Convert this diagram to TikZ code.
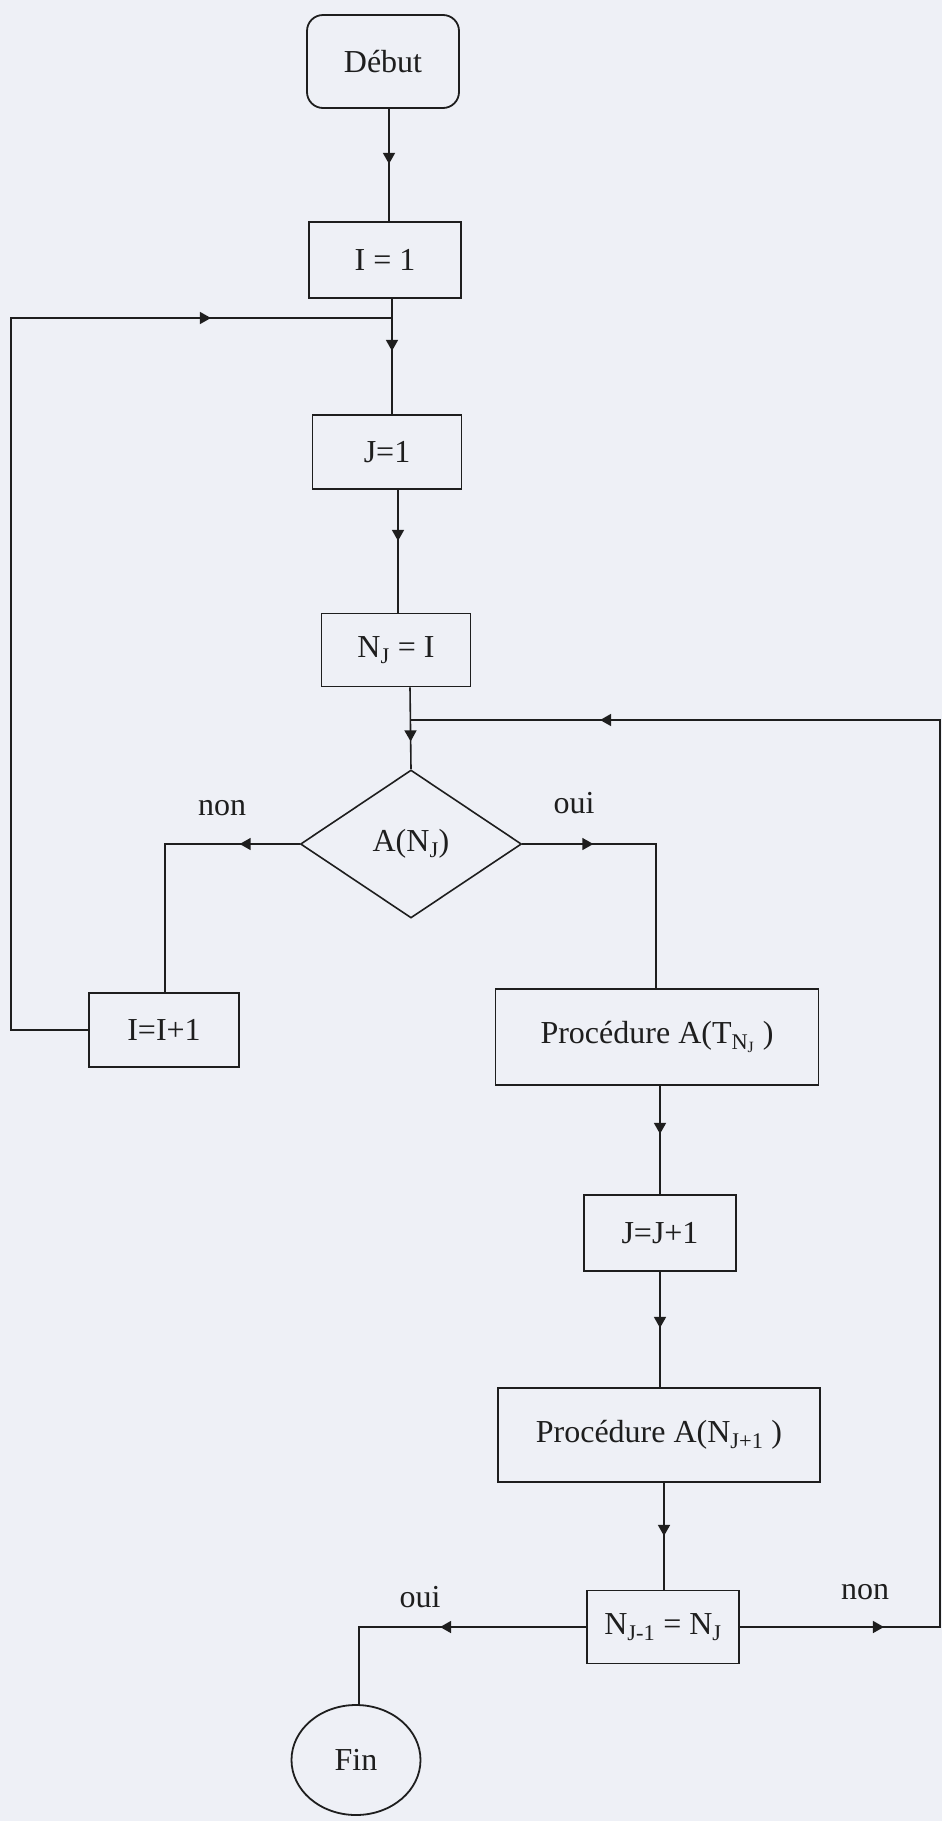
\documentclass[tikz,border=0pt]{standalone}
\usepackage{fontspec}
\setmainfont{Liberation Serif}
\usetikzlibrary{shapes.geometric,arrows.meta,decorations.markings}
\definecolor{paper}{RGB}{238,240,246}
\definecolor{ink}{RGB}{30,30,30}
\begin{document}
\begin{tikzpicture}[x=1pt,y=-1pt,
	every node/.style={font=\fontsize{32}{38}\selectfont,text=ink},
	box/.style={draw=ink,line width=1.8pt,rectangle,inner sep=0pt},
	terminal/.style={box,rounded corners=16pt},
	decision/.style={draw=ink,line width=1.6pt,diamond,inner sep=0pt,minimum width=221pt,minimum height=148pt},
	flow/.style={draw=ink,color=ink,line width=1.6pt},
	midtip/.style={postaction={decorate,decoration={markings,mark=at position #1 with {\arrow{Triangle[length=11pt,width=12pt]}}}}}]
	\fill[paper] (0,0) rectangle (942,1821);
	\useasboundingbox (0,0) rectangle (942,1821);
	% boxes
	\node[terminal,minimum width=152pt,minimum height=93pt] (debut) at (383,61.5) {Début};
	\node[box,minimum width=152pt,minimum height=76pt] (ione) at (385,260) {I = 1};
	\node[box,minimum width=149pt,minimum height=74pt] (jone) at (387,452) {J=1};
	\node[box,minimum width=149pt,minimum height=73pt] (nji) at (396,650) {N\textsubscript{J} = I};
	\node[decision] (testA) at (411,844) {A(N\textsubscript{J})};
	\node[box,minimum width=150pt,minimum height=74pt] (iinc) at (164,1030) {I=I+1};
	\node[box,minimum width=323pt,minimum height=96pt] (procT) at (657,1037) {Procédure A(T\textsubscript{N\textsubscript{J}} )};
	\node[box,minimum width=152pt,minimum height=76pt] (jinc) at (660,1233) {J=J+1};
	\node[box,minimum width=322pt,minimum height=94pt] (procN) at (659,1435) {Procédure A(N\textsubscript{J+1} )};
	\node[box,minimum width=152pt,minimum height=73pt] (testN) at (663,1627) {N\textsubscript{J-1} = N\textsubscript{J}};
	\node[draw=ink,ellipse,line width=1.8pt,inner sep=0pt,minimum width=129pt,minimum height=110pt] (fin) at (356,1760) {Fin};
	% labels
	\node (nonA) at (222,808) {non};
	\node (ouiA) at (574,803) {oui};
	\node (ouiN) at (420,1597) {oui};
	\node (nonN) at (865,1592) {non};
	% junctions
	\coordinate (loopin) at (392,318);
	\coordinate (lcorner) at (11,318);
	\coordinate (backin) at (410,720);
	\coordinate (rcorner) at (940,720);
	% connectors
	\draw[flow,midtip=55pt] ([xshift=6pt]debut.south) -- ([xshift=4pt]ione.north);
	\draw[flow,midtip=52pt] ([xshift=7pt]ione.south) -- ([xshift=5pt]jone.north);
	\draw[flow,midtip=51pt] ([xshift=11pt]jone.south) -- ([xshift=2pt]nji.north);
	\draw[flow,midtip=54pt] ([xshift=14pt]nji.south) -- (testA.north);
	\draw[flow,midtip=60pt] (testA.west) -| ([xshift=1pt]iinc.north);
	\draw[flow,midtip=989pt] (iinc.west) -| (lcorner) -- (loopin);
	\draw[flow,midtip=71pt] (testA.east) -| ([xshift=-1pt]procT.north);
	\draw[flow,midtip=48pt] ([xshift=3pt]procT.south) -- (jinc.north);
	\draw[flow,midtip=56pt] (jinc.south) -- ([xshift=1pt]procN.north);
	\draw[flow,midtip=53pt] ([xshift=5pt]procN.south) -- ([xshift=1pt]testN.north);
	\draw[flow,midtip=146pt] (testN.west) -| ([xshift=3pt]fin.north);
	\draw[flow,midtip=144pt,midtip=1447pt] (testN.east) -| (rcorner) -- (backin);
\end{tikzpicture}
\end{document}
